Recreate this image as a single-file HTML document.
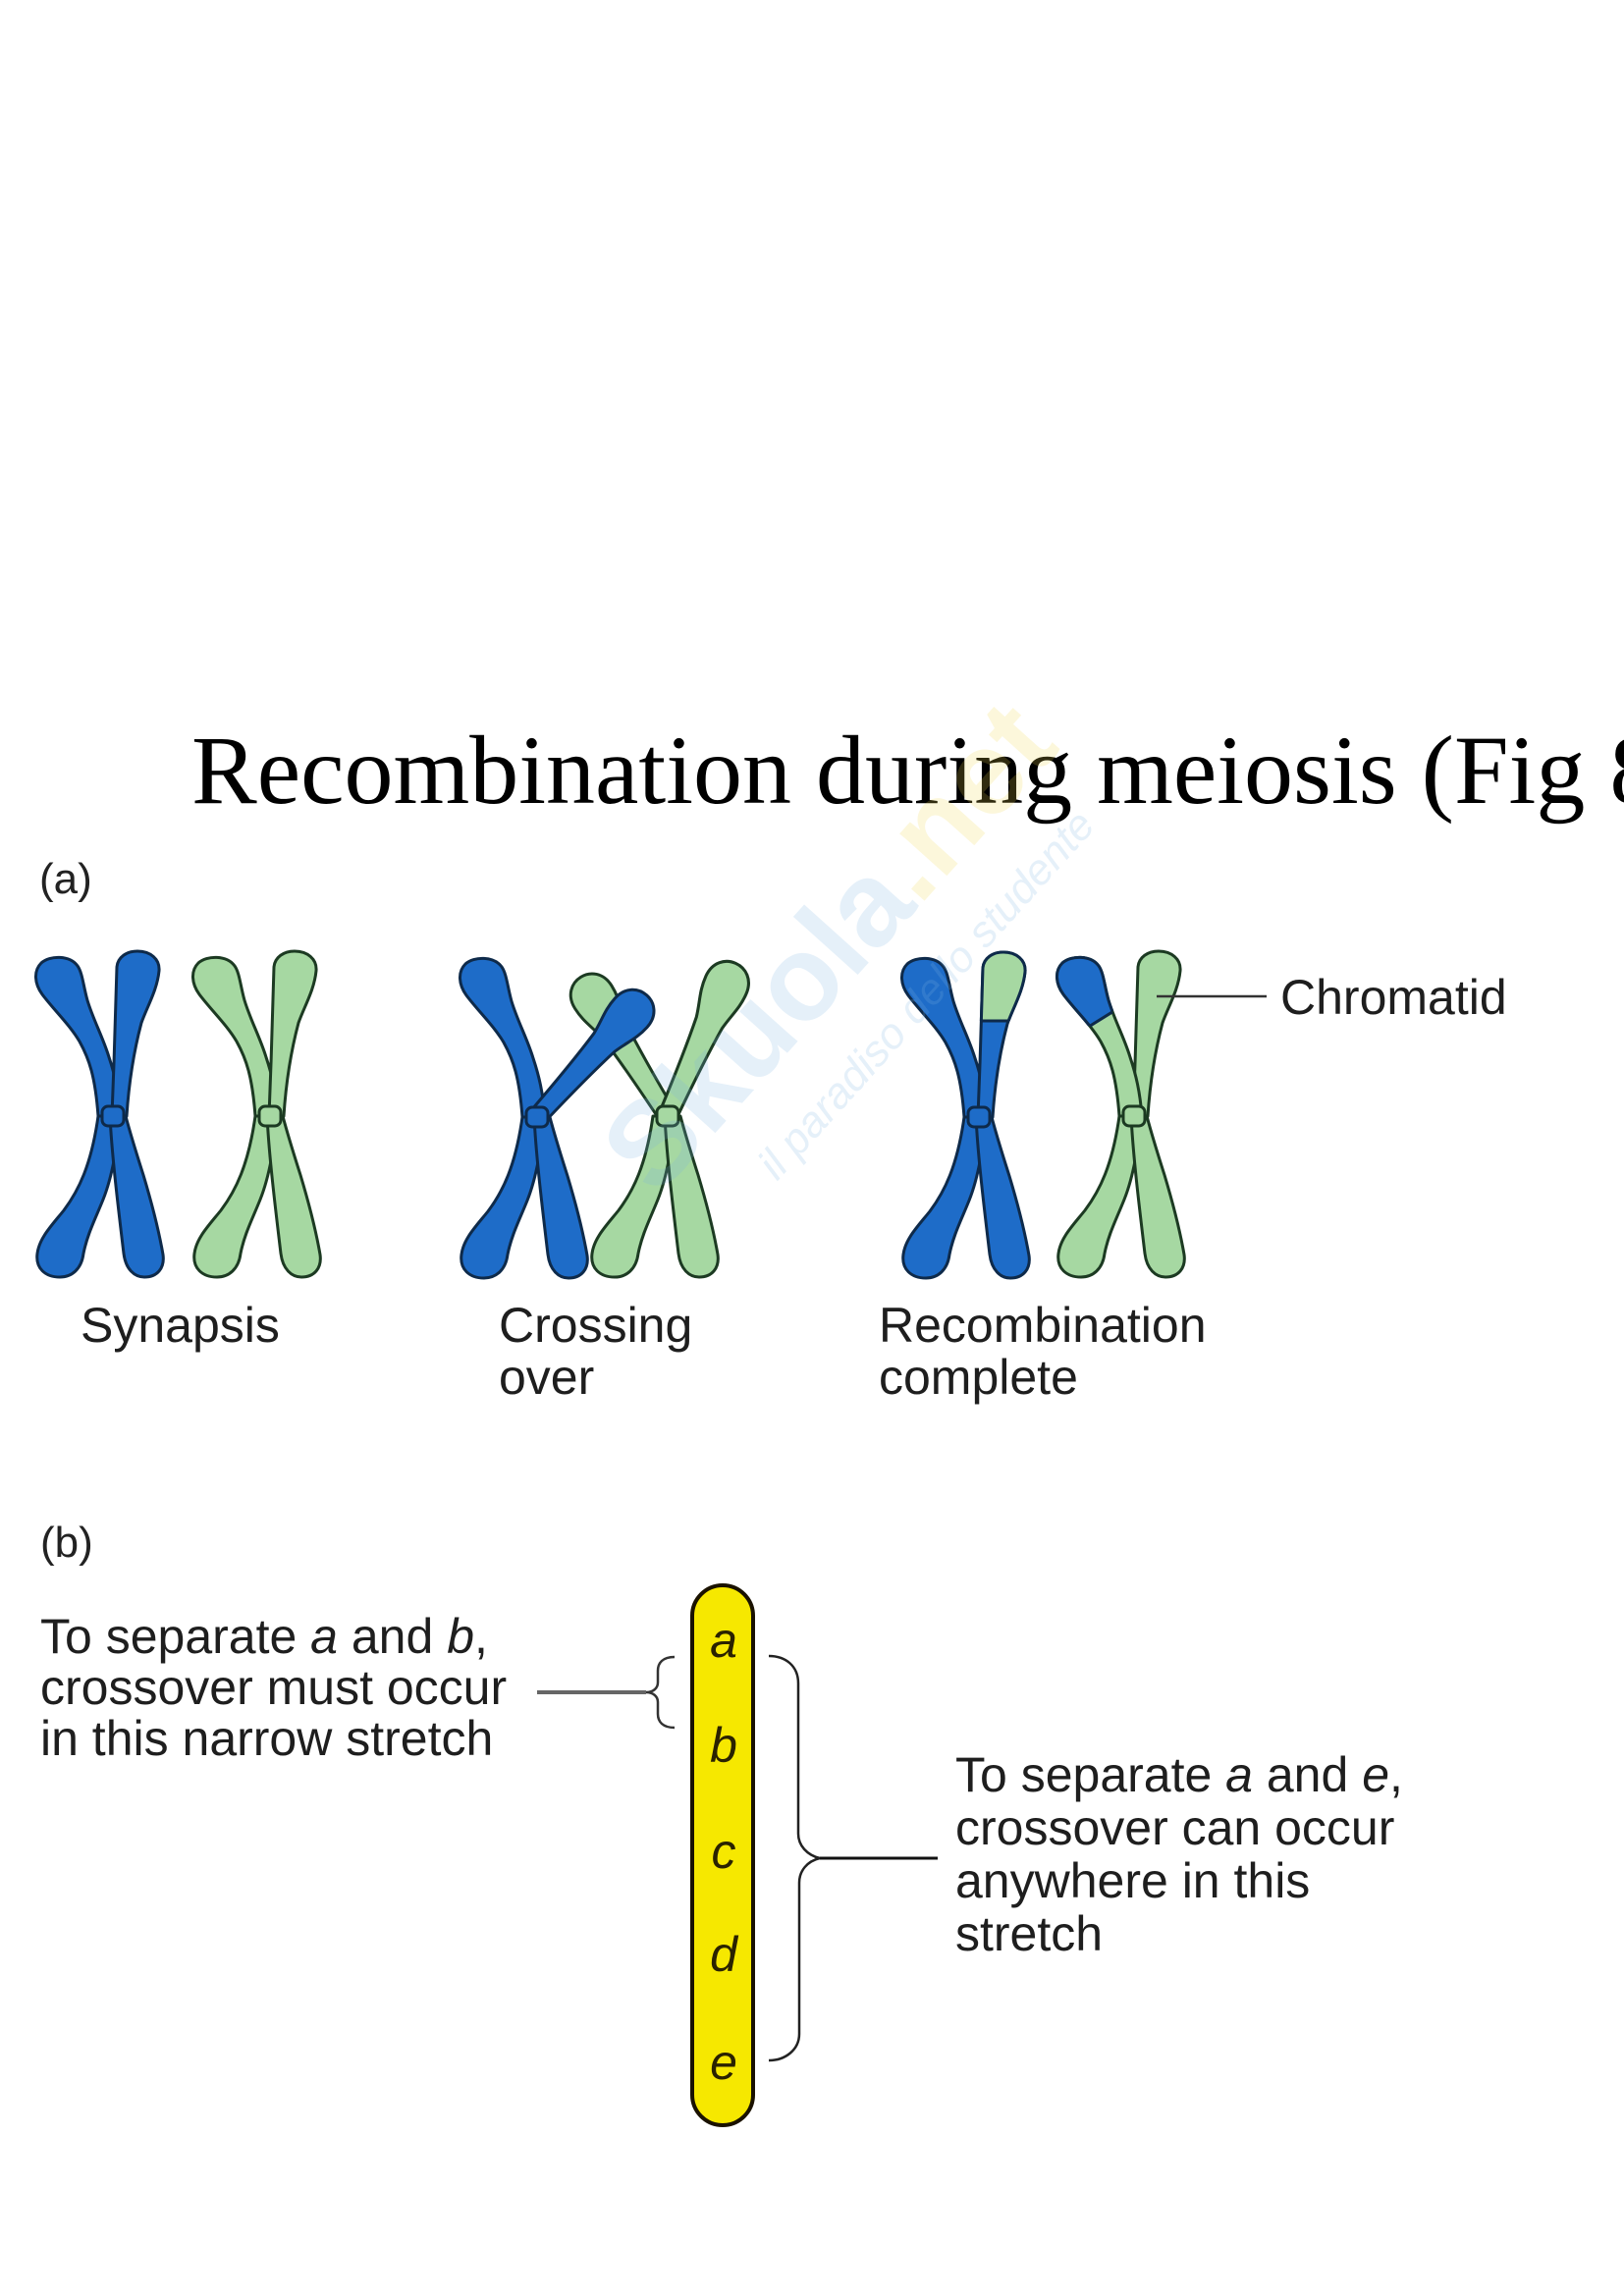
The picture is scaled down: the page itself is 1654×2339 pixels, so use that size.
<!DOCTYPE html>
<html>
<head>
<meta charset="utf-8">
<style>
  html, body { margin:0; padding:0; background:#ffffff; }
  svg { display:block; }
</style>
</head>
<body>
<svg xmlns="http://www.w3.org/2000/svg" xmlns:xlink="http://www.w3.org/1999/xlink" width="1654" height="2339" viewBox="0 0 1654 2339">
  <defs>
    <path id="UL" d="M 8,0 C 6,-25 2,-42 -4,-60 C -10,-80 -20,-98 -26,-118 C -30,-132 -31,-146 -36,-153 C -44,-164 -64,-164 -73,-156 C -81,-148 -80,-135 -72,-124 C -60,-108 -44,-93 -34,-76 C -24,-58 -18,-40 -15,0 Z"/>
    <path id="UR" d="M -1,0 C 1,-50 3,-110 4,-152 C 5,-162 14,-168 25,-168 C 38,-168 48,-160 47,-148 C 45,-128 35,-112 29,-95 C 21,-65 16,-30 14,0 Z"/>
    <path id="LL" d="M 8,0 C 4,30 0,60 -10,85 C -18,105 -26,120 -30,140 C -32,156 -42,164 -54,164 C -69,164 -79,155 -77,140 C -75,124 -62,111 -50,96 C -35,76 -22,50 -15,0 Z"/>
    <path id="LR" d="M -3,0 C -1,40 5,90 11,140 C 13,156 22,164 32,164 C 45,164 53,155 51,141 C 47,118 40,90 31,60 C 23,35 17,15 13,0 Z"/>
    <path id="CL" d="M -9,0 C -10,-40 -12,-80 -14,-102 C -17,-118 -22,-127 -22,-143 C -22,-159 -11,-167 0,-167 C 11,-167 22,-159 22,-143 C 22,-127 17,-118 14,-102 C 12,-80 10,-40 9,0 Z"/>
    <rect id="CEN" x="-11" y="-10" width="22" height="20" rx="6"/>
    <clipPath id="clipURtip"><rect x="-60" y="-250" width="140" height="152"/></clipPath>
    <clipPath id="clipURshape"><use xlink:href="#UR"/></clipPath>
    <clipPath id="clipULtip"><polygon points="-118,-47 52,-153 52,-230 -160,-230 -160,-47"/></clipPath>
    <clipPath id="clipULshape"><use xlink:href="#UL"/></clipPath>
  </defs>

  <rect x="0" y="0" width="1654" height="2339" fill="#ffffff"/>

  <!-- Title -->
  <text x="195" y="818" font-family="'Liberation Serif', 'Times New Roman', serif" font-size="100" fill="#000">Recombination during meiosis (Fig 8.10)</text>

  <!-- (a) -->
  <text x="40" y="910" font-family="'Liberation Sans', Arial, sans-serif" font-size="44" fill="#222">(a)</text>

  <!-- Synapsis: blue -->
  <g transform="translate(115,1137)" fill="#1e6cc8" stroke="#0e2a4a" stroke-width="3" stroke-linejoin="round">
    <use xlink:href="#UL"/><use xlink:href="#UR"/><use xlink:href="#LL"/><use xlink:href="#LR"/><use xlink:href="#CEN"/>
  </g>
  <!-- Synapsis: green -->
  <g transform="translate(275,1137)" fill="#a6d8a2" stroke="#1c3a22" stroke-width="3" stroke-linejoin="round">
    <use xlink:href="#UL"/><use xlink:href="#UR"/><use xlink:href="#LL"/><use xlink:href="#LR"/><use xlink:href="#CEN"/>
  </g>

  <!-- Crossing over: green (behind) -->
  <g transform="translate(680,1137)" fill="#a6d8a2" stroke="#1c3a22" stroke-width="3" stroke-linejoin="round">
    <use xlink:href="#CL" transform="rotate(-32)"/>
    <use xlink:href="#CL" transform="rotate(24) scale(1.02)"/>
    <use xlink:href="#LL"/><use xlink:href="#LR"/><use xlink:href="#CEN"/>
  </g>
  <!-- Crossing over: blue -->
  <g transform="translate(547,1138)" fill="#1e6cc8" stroke="#0e2a4a" stroke-width="3" stroke-linejoin="round">
    <use xlink:href="#UL"/><use xlink:href="#LL"/><use xlink:href="#LR"/>
    <use xlink:href="#CL" transform="rotate(42)"/>
    <use xlink:href="#CEN"/>
  </g>

  <!-- Recombination complete: blue -->
  <g transform="translate(997,1138)" fill="#1e6cc8" stroke="#0e2a4a" stroke-width="3" stroke-linejoin="round">
    <use xlink:href="#UL"/><use xlink:href="#LL"/><use xlink:href="#LR"/>
    <use xlink:href="#UR"/>
    <use xlink:href="#UR" fill="#a6d8a2" clip-path="url(#clipURtip)"/>
    <line x1="-10" y1="-98" x2="60" y2="-98" stroke="#0e2a4a" stroke-width="3" clip-path="url(#clipURshape)"/>
    <use xlink:href="#CEN"/>
  </g>
  <!-- Recombination complete: green -->
  <g transform="translate(1155,1137)" fill="#a6d8a2" stroke="#1c3a22" stroke-width="3" stroke-linejoin="round">
    <use xlink:href="#UR"/><use xlink:href="#LL"/><use xlink:href="#LR"/>
    <use xlink:href="#UL"/>
    <use xlink:href="#UL" fill="#1e6cc8" stroke="#0e2a4a" clip-path="url(#clipULtip)"/>
    <line x1="-80" y1="-70" x2="10" y2="-126" stroke="#0e2a4a" stroke-width="3" clip-path="url(#clipULshape)"/>
    <use xlink:href="#CEN"/>
  </g>

  <!-- Chromatid pointer -->
  <line x1="1178" y1="1015" x2="1290" y2="1015" stroke="#333" stroke-width="2.5"/>
  <text x="1304" y="1033" font-family="'Liberation Sans', Arial, sans-serif" font-size="50" fill="#1e1e1e">Chromatid</text>

  <!-- Stage labels -->
  <g font-family="'Liberation Sans', Arial, sans-serif" font-size="50" fill="#1e1e1e">
    <text x="82" y="1367">Synapsis</text>
    <text x="508" y="1367">Crossing</text>
    <text x="508" y="1420">over</text>
    <text x="895" y="1367">Recombination</text>
    <text x="895" y="1420">complete</text>
  </g>

  <!-- (b) -->
  <text x="41" y="1586" font-family="'Liberation Sans', Arial, sans-serif" font-size="44" fill="#222">(b)</text>

  <!-- Left explanatory text -->
  <g font-family="'Liberation Sans', Arial, sans-serif" font-size="50" fill="#1e1e1e">
    <text x="41" y="1684">To separate <tspan font-style="italic">a</tspan> and <tspan font-style="italic">b</tspan>,</text>
    <text x="41" y="1736">crossover must occur</text>
    <text x="41" y="1788">in this narrow stretch</text>
  </g>

  <!-- Left pointer line + small brace -->
  <line x1="547" y1="1724" x2="658" y2="1724" stroke="#666" stroke-width="4"/>
  <path d="M 687,1688 C 675,1688 670,1694 670,1702 L 670,1714 C 670,1720 665,1724 658,1724 C 665,1724 670,1728 670,1734 L 670,1746 C 670,1754 675,1760 687,1760" fill="none" stroke="#333" stroke-width="2.5"/>

  <!-- Yellow chromosome bar -->
  <rect x="705" y="1615" width="62" height="550" rx="31" ry="31" fill="#f6e800" stroke="#1a1200" stroke-width="4"/>
  <g font-family="'Liberation Sans', Arial, sans-serif" font-size="50" font-style="italic" fill="#2a2200" text-anchor="middle">
    <text x="737" y="1688">a</text>
    <text x="737" y="1795">b</text>
    <text x="737" y="1903">c</text>
    <text x="737" y="2008">d</text>
    <text x="737" y="2118">e</text>
  </g>

  <!-- Big brace + pointer line -->
  <path d="M 783,1687 C 800,1687 813,1697 813,1715 L 813,1868 C 813,1880 822,1890 835,1893 C 822,1896 814,1906 814,1918 L 814,2072 C 814,2088 800,2099 783,2099" fill="none" stroke="#222" stroke-width="2.5"/>
  <line x1="835" y1="1893" x2="955" y2="1893" stroke="#111" stroke-width="3"/>

  <!-- Right explanatory text -->
  <g font-family="'Liberation Sans', Arial, sans-serif" font-size="50" fill="#1e1e1e">
    <text x="973" y="1825">To separate <tspan font-style="italic">a</tspan> and <tspan font-style="italic">e</tspan>,</text>
    <text x="973" y="1879">crossover can occur</text>
    <text x="973" y="1933">anywhere in this</text>
    <text x="973" y="1987">stretch</text>
  </g>

  <!-- Faint watermark -->
  <g transform="translate(845,965) rotate(-48)" font-family="'Liberation Sans', Arial, sans-serif" text-anchor="middle">
    <text x="0" y="40" font-size="122" font-weight="bold" fill="#7fb6e3" fill-opacity="0.2">Skuola<tspan fill="#f2d94a">.net</tspan></text>
    <text x="30" y="120" font-size="44" font-style="italic" fill="#7fb6e3" fill-opacity="0.2">il paradiso dello studente</text>
  </g>
</svg>
</body>
</html>
